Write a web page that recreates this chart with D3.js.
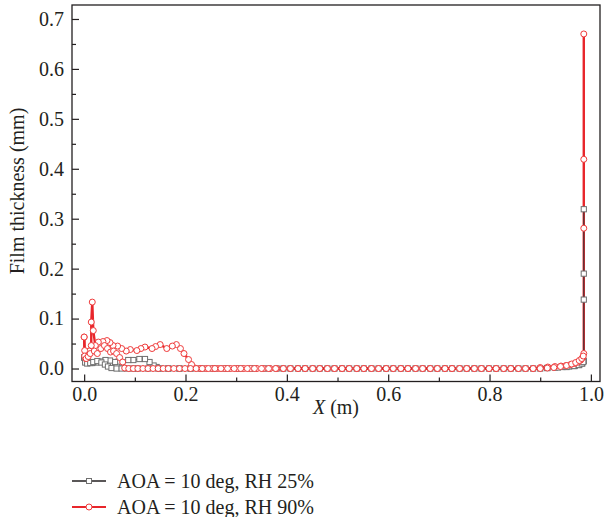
<html><head>
<script src="https://d3js.org/d3.v7.min.js"></script>
<style>
  body { margin: 0; background: #fff; }
  text { font-family: "Liberation Serif", "DejaVu Serif", serif; fill: #231f20; }
  .axis path { display: none; }
  .axis line { stroke: #231f20; stroke-width: 1.2px; }
  .frame { fill: none; stroke: #231f20; stroke-width: 1.3px; }
</style>
</head>
<body>
<script>
// tick labels
const xTicks = [0.0, 0.2, 0.4, 0.6, 0.8, 1.0]
const xMinor = [0.1, 0.3, 0.5, 0.7, 0.9]
const yTicks = [0.0, 0.1, 0.2, 0.3, 0.4, 0.5, 0.6, 0.7]
const yMinor = [0.05, 0.15, 0.25, 0.35, 0.45, 0.55, 0.65]

const seriesNames = ["AOA = 10 deg, RH 25%", "AOA = 10 deg, RH 90%"]

// RH 25% - upper surface, trailing edge -> leading edge
const lowUpperX = [0.986, 0.986, 0.986, 0.986, 0.983, 0.977, 0.968, 0.957, 0.944, 0.929, 0.914, 0.900,
  0.871, 0.842, 0.813, 0.784, 0.755, 0.726, 0.697, 0.668, 0.639, 0.610, 0.581, 0.552, 0.523, 0.494,
  0.465, 0.436, 0.407, 0.380, 0.354, 0.328, 0.302, 0.277, 0.253, 0.229, 0.210, 0.188, 0.166, 0.150,
  0.143, 0.137, 0.129, 0.120, 0.109, 0.097, 0.087, 0.075, 0.068, 0.061, 0.051, 0.042, 0.032, 0.024,
  0.016, 0.010, 0.005, 0.002, 0.000]
const lowUpperY = [0.319, 0.190, 0.138, 0.015, 0.010, 0.007, 0.005, 0.004, 0.003, 0.002, 0.001, 0.000,
  0, 0, 0, 0, 0, 0, 0, 0, 0, 0, 0, 0, 0, 0,
  0, 0, 0, 0, 0, 0, 0, 0, 0, 0, 0, 0, 0, 0,
  0.003, 0.006, 0.013, 0.019, 0.019, 0.017, 0.017, 0.012, 0.014, 0.013, 0.016, 0.017, 0.014, 0.012,
  0.011, 0.012, 0.013, 0.016, 0.022]
// RH 25% - lower surface, leading edge -> trailing edge
const lowLowerX = [0.000, 0.002, 0.006, 0.012, 0.018, 0.026, 0.034, 0.041, 0.047, 0.054, 0.064, 0.074,
  0.085, 0.097, 0.106, 0.126, 0.146, 0.166, 0.188, 0.210, 0.233, 0.258, 0.283, 0.309, 0.336, 0.364,
  0.393, 0.422, 0.451, 0.480, 0.509, 0.538, 0.567, 0.596, 0.625, 0.654, 0.683, 0.712, 0.741, 0.770,
  0.799, 0.828, 0.857, 0.886, 0.914, 0.935, 0.952, 0.966, 0.976, 0.982, 0.985]
const lowLowerY = [0.022, 0.012, 0.010, 0.011, 0.013, 0.015, 0.012, 0.008, 0.004, 0.001, 0.000, 0.000,
  0, 0, 0, 0, 0, 0, 0, 0, 0, 0, 0, 0, 0, 0,
  0, 0, 0, 0, 0, 0, 0, 0, 0, 0, 0, 0, 0, 0,
  0, 0, 0, 0, 0.001, 0.002, 0.003, 0.005, 0.007, 0.010, 0.013]

// RH 90% - upper surface, trailing edge -> leading edge
const highUpperX = [0.986, 0.986, 0.986, 0.986, 0.984, 0.980, 0.975, 0.968, 0.960, 0.951, 0.941, 0.929,
  0.915, 0.900, 0.886, 0.871, 0.857, 0.842, 0.828, 0.813, 0.799, 0.784, 0.770, 0.755, 0.741, 0.726,
  0.712, 0.697, 0.683, 0.668, 0.654, 0.639, 0.625, 0.610, 0.596, 0.581, 0.567, 0.552, 0.538, 0.523,
  0.509, 0.494, 0.480, 0.465, 0.451, 0.436, 0.422, 0.407, 0.393, 0.380, 0.367, 0.354, 0.341, 0.328,
  0.315, 0.302, 0.289, 0.277, 0.265, 0.253, 0.241, 0.229, 0.219, 0.212, 0.206, 0.197, 0.190, 0.182,
  0.174, 0.163, 0.150, 0.141, 0.134, 0.120, 0.112, 0.104, 0.091, 0.083, 0.074, 0.066, 0.057, 0.051,
  0.045, 0.037, 0.028, 0.022, 0.018, 0.016, 0.014, 0.014, 0.010, 0.006, 0.003, 0.001, 0.000]
const highUpperY = [0.670, 0.419, 0.281, 0.030, 0.022, 0.017, 0.013, 0.010, 0.008, 0.006, 0.005, 0.004,
  0.003, 0.002, 0, 0, 0, 0, 0, 0, 0, 0, 0, 0, 0, 0,
  0, 0, 0, 0, 0, 0, 0, 0, 0, 0, 0, 0, 0, 0,
  0, 0, 0, 0, 0, 0, 0, 0, 0, 0, 0, 0, 0, 0,
  0, 0, 0, 0, 0, 0, 0, 0, 0.001, 0.008, 0.018, 0.030, 0.040, 0.048,
  0.045, 0.040, 0.048, 0.044, 0.040, 0.043, 0.040, 0.036, 0.038, 0.035, 0.040, 0.045, 0.046, 0.052,
  0.056, 0.054, 0.053, 0.046, 0.076, 0.133, 0.093, 0.046, 0.035, 0.025, 0.020, 0.036, 0.063]
// RH 90% - lower surface, leading edge -> trailing edge
const highLowerX = [0.000, 0.001, 0.004, 0.008, 0.012, 0.020, 0.026, 0.033, 0.040, 0.046, 0.052, 0.058,
  0.064, 0.070, 0.076, 0.080, 0.088, 0.097, 0.106, 0.116, 0.126, 0.136, 0.146, 0.156, 0.166, 0.177,
  0.188, 0.199, 0.210, 0.221, 0.233, 0.245, 0.258, 0.270, 0.283, 0.296, 0.309, 0.322, 0.336, 0.350,
  0.364, 0.378, 0.393, 0.407, 0.422, 0.436, 0.451, 0.465, 0.480, 0.494, 0.509, 0.523, 0.538, 0.552,
  0.567, 0.581, 0.596, 0.610, 0.625, 0.639, 0.654, 0.668, 0.683, 0.697, 0.712, 0.726, 0.741, 0.755,
  0.770, 0.784, 0.799, 0.813, 0.828, 0.842, 0.857, 0.871, 0.886, 0.900, 0.914, 0.927, 0.940, 0.952,
  0.962, 0.970, 0.977, 0.982, 0.985]
const highLowerY = [0.063, 0.025, 0.020, 0.024, 0.030, 0.035, 0.030, 0.040, 0.046, 0.040, 0.033, 0.035,
  0.030, 0.022, 0.013, 0.001, 0, 0, 0, 0, 0, 0, 0, 0, 0, 0,
  0, 0, 0, 0, 0, 0, 0, 0, 0, 0, 0, 0, 0, 0,
  0, 0, 0, 0, 0, 0, 0, 0, 0, 0, 0, 0, 0, 0,
  0, 0, 0, 0, 0, 0, 0, 0, 0, 0, 0, 0, 0, 0,
  0, 0, 0, 0, 0, 0, 0, 0, 0, 0, 0.001, 0.002, 0.004, 0.006,
  0.009, 0.012, 0.016, 0.020, 0.025]

const width = 605
const height = 517
const plot = {left: 72, right: 600, top: 5, bottom: 381.5}

const svg = d3.select("body").append("svg")
  .attr("width", width)
  .attr("height", height)

const x = d3.scaleLinear().domain([-0.024, 1.018]).range([plot.left, plot.right])
const y = d3.scaleLinear().domain([-0.026, 0.728]).range([plot.bottom, plot.top])

const zip = (xs, ys) => xs.map((d, i) => [d, ys[i]])
const lowSeries = [zip(lowUpperX, lowUpperY), zip(lowLowerX, lowLowerY)]
const highSeries = [zip(highUpperX, highUpperY), zip(highLowerX, highLowerY)]

const redLine = "#e8262b"
const redMark = "#ef3b3b"
const blackLine = "#3a3a3a"
const greyMark = "#6f6f6f"

const line = d3.line().x(d => x(d[0])).y(d => y(d[1]))

// axes (inward ticks)
svg.append("g").attr("class", "axis")
  .attr("transform", "translate(0," + plot.bottom + ")")
  .call(d3.axisBottom(x).tickValues(xTicks).tickFormat(d3.format(".1f"))
    .tickSizeInner(-7).tickSizeOuter(0).tickPadding(5))
  .selectAll("text").style("font-size", "20px")

svg.append("g").attr("class", "axis")
  .attr("transform", "translate(0," + plot.bottom + ")")
  .call(d3.axisBottom(x).tickValues(xMinor).tickFormat("").tickSizeInner(-4).tickSizeOuter(0))

svg.append("g").attr("class", "axis")
  .attr("transform", "translate(" + plot.left + ",0)")
  .call(d3.axisLeft(y).tickValues(yTicks).tickFormat(d3.format(".1f"))
    .tickSizeInner(-7).tickSizeOuter(0).tickPadding(8))
  .selectAll("text").style("font-size", "20px")

svg.append("g").attr("class", "axis")
  .attr("transform", "translate(" + plot.left + ",0)")
  .call(d3.axisLeft(y).tickValues(yMinor).tickFormat("").tickSizeInner(-4).tickSizeOuter(0))

svg.selectAll(".axis text").attr("font-family", "Liberation Serif").style("fill", "#231f20")

// frame
svg.append("rect").attr("class", "frame")
  .attr("x", plot.left).attr("y", plot.top)
  .attr("width", plot.right - plot.left).attr("height", plot.bottom - plot.top)

// lines: red under black
svg.append("g").selectAll("path").data(highSeries).join("path")
  .attr("d", line).attr("fill", "none")
  .attr("stroke", redLine).attr("stroke-width", 2.4)

svg.append("g").selectAll("path").data(lowSeries).join("path")
  .attr("d", line).attr("fill", "none")
  .attr("stroke", blackLine).attr("stroke-width", 1.1)

// square markers
svg.append("g").selectAll("rect").data(lowSeries.flat()).join("rect")
  .attr("x", d => x(d[0]) - 2.6).attr("y", d => y(d[1]) - 2.6)
  .attr("width", 5.2).attr("height", 5.2)
  .attr("fill", "#fff").attr("stroke", greyMark).attr("stroke-width", 1)

// circle markers
svg.append("g").selectAll("circle").data(highSeries.flat()).join("circle")
  .attr("cx", d => x(d[0])).attr("cy", d => y(d[1])).attr("r", 3)
  .attr("fill", "#fff").attr("stroke", redMark).attr("stroke-width", 1)

// axis titles
svg.append("text")
  .attr("transform", "translate(24,191) rotate(-90)")
  .attr("text-anchor", "middle")
  .style("font-size", "20px")
  .text("Film thickness (mm)")

const xTitle = svg.append("text")
  .attr("x", 336).attr("y", 414)
  .attr("text-anchor", "middle")
  .style("font-size", "20px")
xTitle.append("tspan").style("font-style", "italic").text("X")
xTitle.append("tspan").text(" (m)")

// legend
const legend = svg.append("g")
const legendRows = [
  {name: seriesNames[0], y: 481, line: "#231f20", mark: "square"},
  {name: seriesNames[1], y: 507, line: redLine, mark: "circle"}
]
legendRows.forEach(r => {
  legend.append("line").attr("x1", 72).attr("x2", 106).attr("y1", r.y).attr("y2", r.y)
    .attr("stroke", r.line).attr("stroke-width", r.mark == "square" ? 1.6 : 2.2)
  if (r.mark == "square") {
    legend.append("rect").attr("x", 86.5).attr("y", r.y - 2.5).attr("width", 5).attr("height", 5)
      .attr("fill", "#fff").attr("stroke", greyMark)
  } else {
    legend.append("circle").attr("cx", 89).attr("cy", r.y).attr("r", 3)
      .attr("fill", "#fff").attr("stroke", redMark)
  }
  legend.append("text").attr("x", 117).attr("y", r.y + 6.5)
    .style("font-size", "20px").text(r.name)
})
</script>
</body></html>
